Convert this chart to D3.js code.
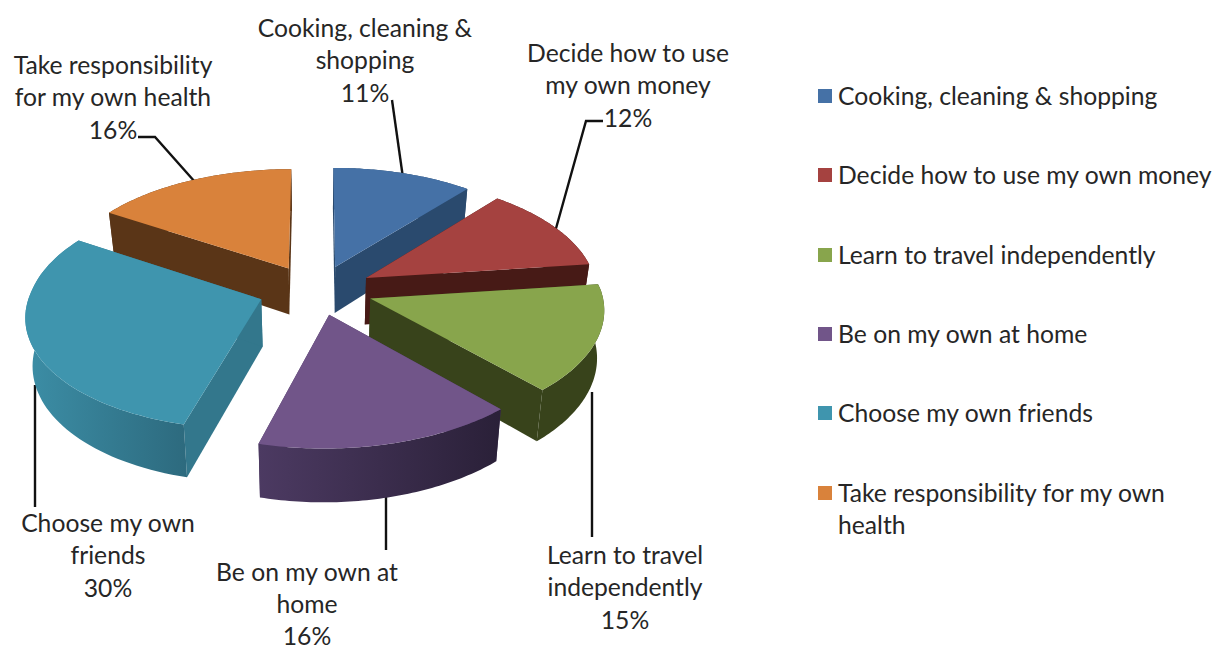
<!DOCTYPE html>
<html>
<head>
<meta charset="utf-8">
<script src="https://cdn.jsdelivr.net/npm/d3@7/dist/d3.min.js"></script>
<style>
  html, body { margin: 0; padding: 0; background: #fff; }
  svg { display: block; }
  text { font-family: Lato, "Open Sans", sans-serif; fill: #262626; }
</style>
</head>
<body>
<svg id="chart" width="1214" height="650"></svg>
<script>
// Survey results: share of responses per skill
const categories = [
  "Cooking, cleaning & shopping",
  "Decide how to use my own money",
  "Learn to travel independently",
  "Be on my own at home",
  "Choose my own friends",
  "Take responsibility for my own health"
];
const shares = [11, 12, 15, 16, 30, 16];

// Data label wording, one entry per line
const labelLines = [
  ["Cooking, cleaning &", "shopping"],
  ["Decide how to use", "my own money"],
  ["Learn to travel", "independently"],
  ["Be on my own at", "home"],
  ["Choose my own", "friends"],
  ["Take responsibility", "for my own health"]
];
const legendLines = [
  ["Cooking, cleaning & shopping"],
  ["Decide how to use my own money"],
  ["Learn to travel independently"],
  ["Be on my own at home"],
  ["Choose my own friends"],
  ["Take responsibility for my own", "health"]
];

const topColors = ["#4571a6", "#a54240", "#88a54c", "#715589", "#3f95ae", "#d9823b"];
const cutColors = ["#2a4a6e", "#471a16", "#38431b", "#4a3860", "#33778c", "#5a3517"];
const wallStops = [
  ["#2a4a6e", "#2a4a6e"],
  ["#471a16", "#471a16"],
  ["#38431b", "#38431b"],
  ["#4c3a62", "#2a2038"],
  ["#3c8ea6", "#2d6a7e"],
  ["#5a3517", "#5a3517"]
];

// Label placement: centre x, first line centre y, line gap, leader polyline
const labelLayout = [
  { x: 365, y: 28,  gap: 32.5, leader: [[392, 100], [403, 178]] },
  { x: 628, y: 53,  gap: 32.5, leader: [[603, 121], [586, 121], [555, 232]] },
  { x: 625, y: 555, gap: 32.5, leader: [[592, 392], [592, 537]] },
  { x: 307, y: 572, gap: 32,   leader: [[386, 490], [386, 550]] },
  { x: 108, y: 523, gap: 32.5, leader: [[35, 385], [35, 507]] },
  { x: 113, y: 65,  gap: 32.5, leader: [[138, 137], [155, 137], [195, 182]] }
];
const legendRows = [96, 175, 255, 334, 413, 493];

// Tilted, perspective view of the pie; skew leans the near half to the left
const view = { cx: 316, cy: 290, rx: 231, ry: 114, persp: 0.105, depth: 47, floor: 0.975, explodeX: 0.25, explodeY: 0.22, skew: 7 };

function project(X, Y, level) {
  const s = 1 / (1 + view.persp * Y);
  const x = view.rx * X * s - view.skew * Math.max(0, -Y);
  const y = -view.ry * Y * s + level * view.depth * s;
  const k = 1 - level * (1 - view.floor);
  return [view.cx + x * k, view.cy + y];
}

const svg = d3.select("#chart");
const defs = svg.append("defs");
const pie = d3.pie().sort(null).value(d => d);
const arcs = pie(shares);
const lineGen = d3.line();

const slices = arcs.map((arc, i) => {
  const mid = (arc.startAngle + arc.endAngle) / 2;
  const ox = view.explodeX * Math.sin(mid);
  const oy = view.explodeY * Math.cos(mid);
  const at = (a, level) => project(ox + Math.sin(a), oy + Math.cos(a), level);
  const steps = d3.range(0, 61).map(t => arc.startAngle + (arc.endAngle - arc.startAngle) * t / 60);
  const apex = level => project(ox, oy, level);
  return { i, mid, at, steps, apex };
});

// Leader lines sit behind the slices
const leaders = svg.append("g");
labelLayout.forEach(d => {
  leaders.append("path")
    .attr("d", lineGen(d.leader))
    .attr("fill", "none")
    .attr("stroke", "#111")
    .attr("stroke-width", 2.4);
});

// Paint back to front
const order = [0, 5, 1, 4, 2, 3];
const pieGroup = svg.append("g");
order.forEach(i => {
  const s = slices[i];
  const g = pieGroup.append("g");
  const rimTop = s.steps.map(a => s.at(a, 0));
  const rimBottom = s.steps.map(a => s.at(a, 1));

  const xs = rimTop.concat(rimBottom).map(p => p[0]);
  const gradId = "wall" + i;
  const grad = defs.append("linearGradient")
    .attr("id", gradId)
    .attr("gradientUnits", "userSpaceOnUse")
    .attr("x1", d3.min(xs)).attr("x2", d3.max(xs))
    .attr("y1", 0).attr("y2", 0);
  grad.append("stop").attr("offset", 0).attr("stop-color", wallStops[i][0]);
  grad.append("stop").attr("offset", 1).attr("stop-color", wallStops[i][1]);

  // two radial cut faces
  [s.steps[0], s.steps[s.steps.length - 1]].forEach(a => {
    g.append("path")
      .attr("d", lineGen([s.apex(0), s.at(a, 0), s.at(a, 1), s.apex(1)]) + "Z")
      .attr("fill", cutColors[i]);
  });
  // outer wall
  g.append("path")
    .attr("d", lineGen(rimTop.concat(rimBottom.slice().reverse())) + "Z")
    .attr("fill", `url(#${gradId})`);
  // top face
  g.append("path")
    .attr("d", lineGen([s.apex(0)].concat(rimTop)) + "Z")
    .attr("fill", topColors[i]);
});

// Data labels
const fontSize = 24.7;
labelLayout.forEach((d, i) => {
  const lines = labelLines[i].concat([shares[i] + "%"]);
  const t = svg.append("text")
    .attr("text-anchor", "middle")
    .attr("font-size", fontSize);
  lines.forEach((line, j) => {
    t.append("tspan")
      .attr("x", d.x)
      .attr("y", d.y + j * d.gap)
      .attr("dy", "0.35em")
      .text(line);
  });
});

// Legend
const legend = svg.append("g");
categories.forEach((name, i) => {
  const y = legendRows[i];
  legend.append("rect")
    .attr("x", 818).attr("y", y - 7)
    .attr("width", 14).attr("height", 14)
    .attr("fill", topColors[i]);
  const t = legend.append("text").attr("font-size", fontSize);
  legendLines[i].forEach((line, j) => {
    t.append("tspan")
      .attr("x", 838)
      .attr("y", y + j * 32)
      .attr("dy", "0.35em")
      .text(line);
  });
});
</script>
</body>
</html>
